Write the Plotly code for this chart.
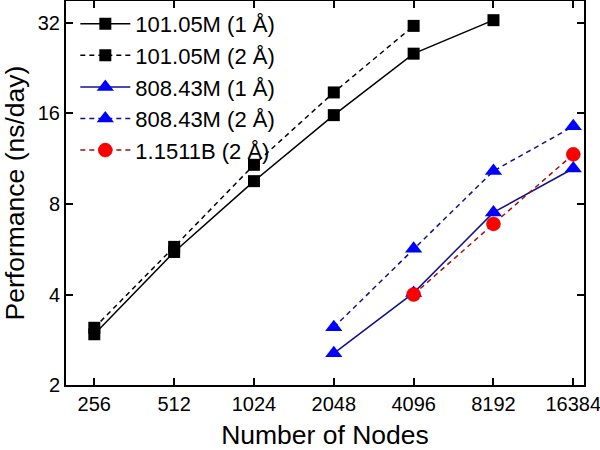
import plotly.graph_objects as go

nodes_101 = [256, 512, 1024, 2048, 4096, 8192]
perf_101_1A = [2.95, 5.54, 9.53, 15.8, 25.3, 32.7]
nodes_101_2A = [256, 512, 1024, 2048, 4096]
perf_101_2A = [3.1, 5.76, 10.8, 18.8, 31.3]

nodes_808 = [2048, 4096, 8192, 16384]
perf_808_1A = [2.55, 4.05, 7.5, 10.5]
perf_808_2A = [3.11, 5.68, 10.3, 14.5]

nodes_115 = [4096, 8192, 16384]
perf_115_2A = [4.0, 6.87, 11.7]

x_ticks = [256, 512, 1024, 2048, 4096, 8192, 16384]
x_labels = ["256", "512", "1024", "2048", "4096", "8192", "16384"]
y_ticks = [2, 4, 8, 16, 32]
y_labels = ["2", "4", "8", "16", "32"]

FONT = "Arial, 'Liberation Sans', sans-serif"
DASH = "5px,4px"

fig = go.Figure()
fig.add_trace(go.Scatter(
    x=nodes_101, y=perf_101_1A, name="101.05M (1 Å)", mode="lines+markers",
    line=dict(color="black", width=1.5),
    marker=dict(symbol="square", size=12, color="black")))
fig.add_trace(go.Scatter(
    x=nodes_101_2A, y=perf_101_2A, name="101.05M (2 Å)", mode="lines+markers",
    line=dict(color="black", width=1.5, dash=DASH),
    marker=dict(symbol="square", size=12, color="black")))
fig.add_trace(go.Scatter(
    x=nodes_808, y=perf_808_1A, name="808.43M (1 Å)", mode="lines+markers",
    line=dict(color="#10108c", width=1.5),
    marker=dict(symbol="triangle-up", size=15, color="#0000ff")))
fig.add_trace(go.Scatter(
    x=nodes_808, y=perf_808_2A, name="808.43M (2 Å)", mode="lines+markers",
    line=dict(color="#10108c", width=1.5, dash=DASH),
    marker=dict(symbol="triangle-up", size=15, color="#0000ff")))
fig.add_trace(go.Scatter(
    x=nodes_115, y=perf_115_2A, name="1.1511B (2 Å)", mode="lines+markers",
    line=dict(color="#a01010", width=1.5, dash=DASH),
    marker=dict(symbol="circle", size=14, color="#ff0000",
                line=dict(color="#c00000", width=0.5))))

xr = [2.3015, 4.2548]
yr = [0.30103, 1.5783]

common = dict(showgrid=False, zeroline=False, showline=True, mirror="ticks",
              linecolor="black", linewidth=2, tickcolor="black",
              tickwidth=1.5, automargin=False, ticks="inside", ticklen=7)

fig.update_layout(
    width=600, height=450,
    margin=dict(l=66, r=16, t=1, b=65),
    paper_bgcolor="white", plot_bgcolor="white",
    font=dict(family=FONT, color="black"),
    xaxis=dict(type="log", range=xr, tickvals=x_ticks, ticktext=x_labels,
               ticklabeloverflow="allow",
               tickfont=dict(size=20),
               title=dict(text="Number of Nodes", font=dict(size=26.5), standoff=15),
               **common),
    yaxis=dict(type="log", range=yr, tickvals=y_ticks, ticktext=y_labels,
               tickfont=dict(size=20),
               title=dict(text="Performance (ns/day)", font=dict(size=26.5), standoff=9),
               **common),
    legend=dict(x=0.018, y=0.995, xanchor="left", yanchor="top",
                bgcolor="rgba(0,0,0,0)", font=dict(size=22),
                itemwidth=50, tracegroupgap=0),
    showlegend=True,
)

fig.write_html("out.html", config={"displayModeBar": False},
               post_script="document.body.style.margin='0';")
